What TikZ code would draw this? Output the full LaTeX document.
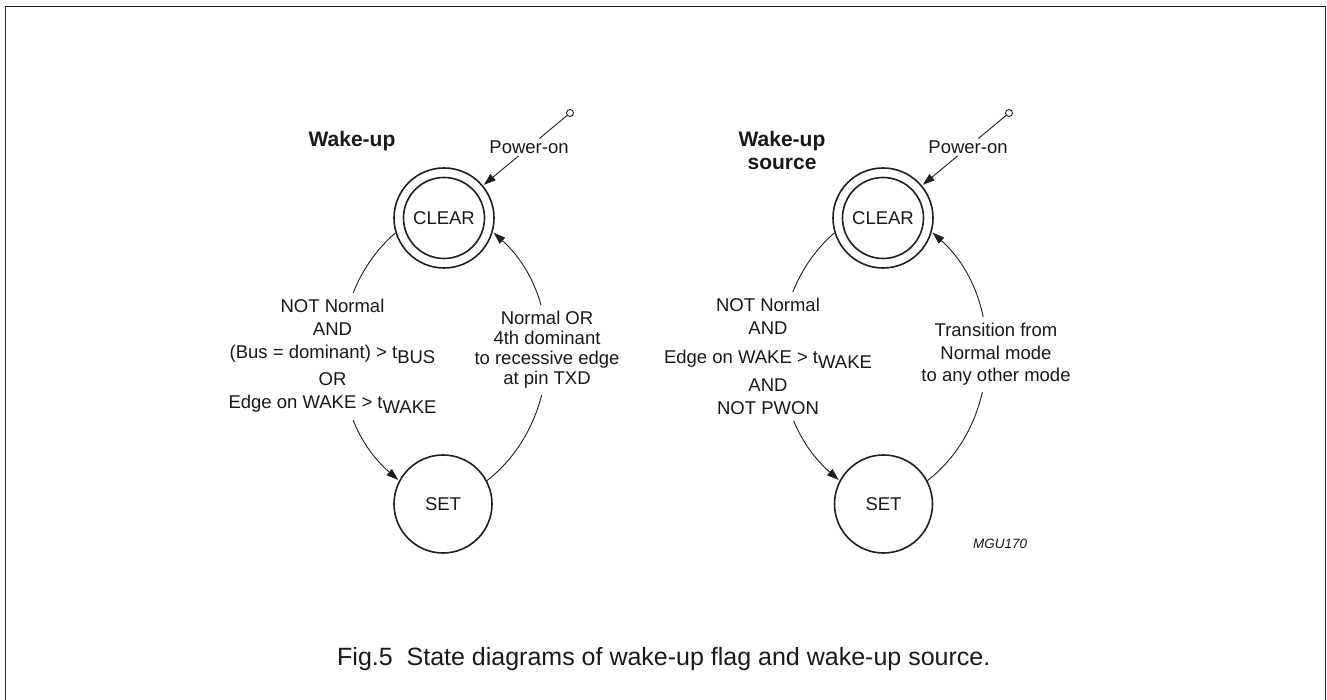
\documentclass[tikz,border=0pt]{standalone}
\usepackage{fontspec}
\setmainfont{Liberation Sans}
\usetikzlibrary{arrows.meta}
\newcommand{\lblfnt}{\fontsize{18.5}{23}\selectfont}
\newcommand{\lblfntB}{\fontsize{18.5}{20}\selectfont}
\newcommand{\lblfntC}{\fontsize{18.5}{22.5}\selectfont}
\newcommand{\subtx}[1]{\raisebox{-5pt}{#1}}
\begin{document}
\begin{tikzpicture}[x=1pt,y=1pt,
  every node/.style={text=black!90},
  state/.style={circle,draw=black!88,line width=1.6pt,inner sep=0pt,font=\lblfnt},
  ring/.style={draw=black!88,line width=1.6pt},
  term/.style={circle,draw=black!88,fill=white,line width=0.9pt,minimum size=7pt,inner sep=0pt},
  lbl/.style={font=\lblfnt,inner sep=2pt},
  cond/.style={fill=white,align=center,inner sep=6pt},
  wire/.style={draw=black!88,line width=0.9pt},
  arr/.style={wire,-{Triangle[length=12pt,width=8pt]},shorten >=1pt},
  title/.style={font=\fontsize{21}{23}\selectfont\bfseries,align=center}]
\useasboundingbox (0,0) rectangle (1327,700);
\draw[line width=1.8pt,black!85] (5.5,-3) -- (5.5,693.5) -- (1325.5,693.5) -- (1325.5,-3);

% ---------- left diagram ----------
\node[title,anchor=base] (titL) at (352,553) {Wake-up};
\node[state,minimum size=100pt] (clearL) at (444,482) {CLEAR};
\draw[ring] (clearL.center) circle (40.5);
\node[state,minimum size=98pt] (setL) at (443,196) {SET};
\node[term] (pwrL) at (570,587) {};
\node[lbl,anchor=base] (ponL) at (529,546.5) {Power-on};
\draw[wire] (pwrL) -- (ponL);
\draw[arr] (ponL) -- (clearL);
\draw[arr] (clearL.197) to[out=221,in=139] (setL.152);
\draw[arr] (setL.28) to[out=38,in=-42] (clearL.-16);
\node[cond,font=\lblfnt] (condL1) at (332.5,343.5)
  {NOT Normal\\AND\\(Bus = dominant) > t\subtx{BUS}\\[4pt]OR\\Edge on WAKE > t\subtx{WAKE}};
\node[cond,font=\lblfntB] (condL2) at (547,350)
  {Normal OR\\4th dominant\\to recessive edge\\at pin TXD};

% ---------- right diagram ----------
\node[title] (titR) at (782,549) {Wake-up\\source};
\node[state,minimum size=100pt] (clearR) at (883,482) {CLEAR};
\draw[ring] (clearR.center) circle (40.5);
\node[state,minimum size=98pt] (setR) at (883.5,196) {SET};
\node[term] (pwrR) at (1009,587) {};
\node[lbl,anchor=base] (ponR) at (968,546.5) {Power-on};
\draw[wire] (pwrR) -- (ponR);
\draw[arr] (ponR) -- (clearR);
\draw[arr] (clearR.197) to[out=221,in=139] (setR.152);
\draw[arr] (setR.28) to[out=38,in=-42] (clearR.-16);
\node[cond,font=\lblfnt] (condR1) at (768,343.5)
  {NOT Normal\\AND\\[5.5pt]Edge on WAKE > t\subtx{WAKE}\\[5.5pt]AND\\NOT PWON};
\node[cond,font=\lblfntC] (condR2) at (996,345.5)
  {Transition from\\Normal mode\\to any other mode};

\node[font=\fontsize{13.5}{15}\selectfont\itshape] (code) at (1000,156) {MGU170};
\node[font=\fontsize{25}{28}\selectfont,anchor=base west,inner sep=0pt] (caption) at (337,34)
  {Fig.5\ \ State diagrams of wake-up flag and wake-up source.};
\end{tikzpicture}
\end{document}
